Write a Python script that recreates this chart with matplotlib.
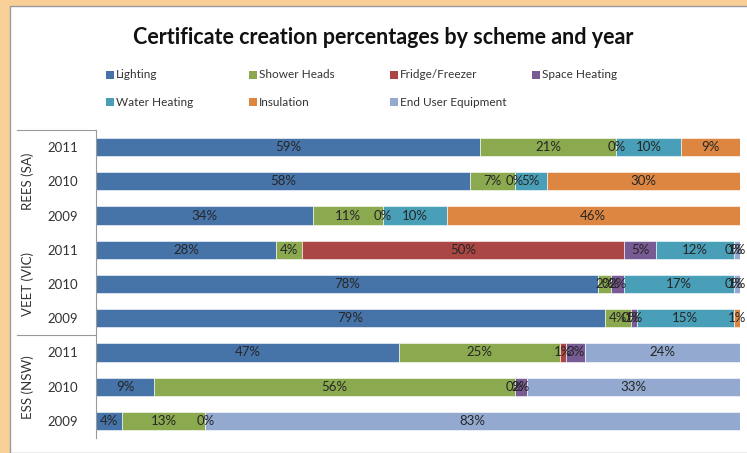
import numpy as np
import matplotlib
matplotlib.use("Agg")
import matplotlib.pyplot as plt
from matplotlib.patches import Rectangle
from matplotlib.transforms import blended_transform_factory

plt.rcParams['font.family'] = ['Lato', 'DejaVu Sans']

# === DATA ===
schemes = ["REES (SA)", "VEET (VIC)", "ESS (NSW)"]
years = ["2011", "2010", "2009"]
categories = ["Lighting", "Shower Heads", "Fridge/Freezer", "Space Heating",
              "Water Heating", "Insulation", "End User Equipment"]
colors = ["#4673A8", "#8BA94F", "#AA4643", "#785A95",
          "#4A9FB8", "#DD8641", "#94A9D0"]

nan = np.nan
# rows top to bottom: REES 2011..2009, VEET 2011..2009, ESS 2011..2009
lighting      = [59, 58, 34, 28, 78, 79, 47, 9, 4]
shower_heads  = [21, 7, 11, 4, 2, 4, 25, 56, 13]
fridge        = [0, 0, 0, 50, 0, 0, 1, 0, 0]
space_heating = [nan, nan, nan, 5, 2, 1, 3, 2, nan]
water_heating = [10, 5, 10, 12, 17, 15, nan, nan, nan]
insulation    = [9, 30, 46, 0, 0, 1, nan, nan, nan]
end_user      = [nan, nan, nan, 1, 1, nan, 24, 33, 83]

series = [lighting, shower_heads, fridge, space_heating,
          water_heating, insulation, end_user]

# === FIGURE ===
W, H = 747, 453
fig = plt.figure(figsize=(W / 100, H / 100), dpi=100, facecolor="#f9cf98")
fig.patches.append(Rectangle((10 / W, 0), 1, 1 - 6 / H, transform=fig.transFigure,
                             facecolor="white", edgecolor="#9a9a9a", lw=1, zorder=-5))

fig.text(383 / W, 1 - 37 / H, "Certificate creation percentages by scheme and year",
         ha="center", va="center", fontsize=15.5, fontweight="bold", color="#111111")

# legend drawn by hand (Excel style grid)
leg_x = [106, 249, 390, 532]
leg_y = [75, 102]
for i, (name, c) in enumerate(zip(categories, colors)):
    x = leg_x[i % 4]
    y = leg_y[i // 4]
    fig.patches.append(Rectangle((x / W, 1 - (y + 4) / H), 8 / W, 8 / H,
                                 transform=fig.transFigure, facecolor=c, edgecolor="none"))
    fig.text((x + 10) / W, 1 - y / H, name, ha="left", va="center",
             fontsize=8.5, color="#333333")

ax = fig.add_axes([96 / W, 1 - 438 / H, 644 / W, 308 / H])
ax.patch.set_alpha(0)
data = np.array(series, dtype=float)
totals = np.nansum(data, axis=0)
shares = np.nan_to_num(data) / totals

ypos = np.arange(len(lighting))
left = np.zeros(len(lighting))
for k in range(len(categories)):
    ax.barh(ypos, shares[k], left=left, height=0.53, color=colors[k],
            edgecolor="white", linewidth=0.4)
    for j in range(len(ypos)):
        if not np.isnan(data[k, j]):
            ax.text(left[j] + shares[k, j] / 2, ypos[j], f"{data[k, j]:.0f}%",
                    ha="center", va="center", fontsize=9.5, color="#262626")
    left += shares[k]

ax.set_xlim(0, 1)
ax.set_ylim(len(ypos) - 0.5, -0.5)
ax.set_xticks([])
ax.set_yticks(ypos)
ax.set_yticklabels(years * len(schemes), fontsize=9.5, color="#333333")
ax.tick_params(axis="y", length=0, pad=13)
for s in ["top", "right", "bottom"]:
    ax.spines[s].set_visible(False)
ax.spines["left"].set_color("#999999")
ax.spines["left"].set_linewidth(0.8)

# scheme labels and group separators
tr = blended_transform_factory(fig.transFigure, ax.transData)
for g, name in enumerate(schemes):
    ax.text(28 / W, g * len(years) + 1, name, transform=tr, rotation=90,
            ha="center", va="center", fontsize=9.5, color="#333333")
for yb in [-0.5, 5.5]:
    ax.plot([17 / W, 96 / W], [yb, yb], transform=tr, color="#999999",
            lw=0.8, clip_on=False)

fig.savefig("out.png", dpi=100, facecolor=fig.get_facecolor())
